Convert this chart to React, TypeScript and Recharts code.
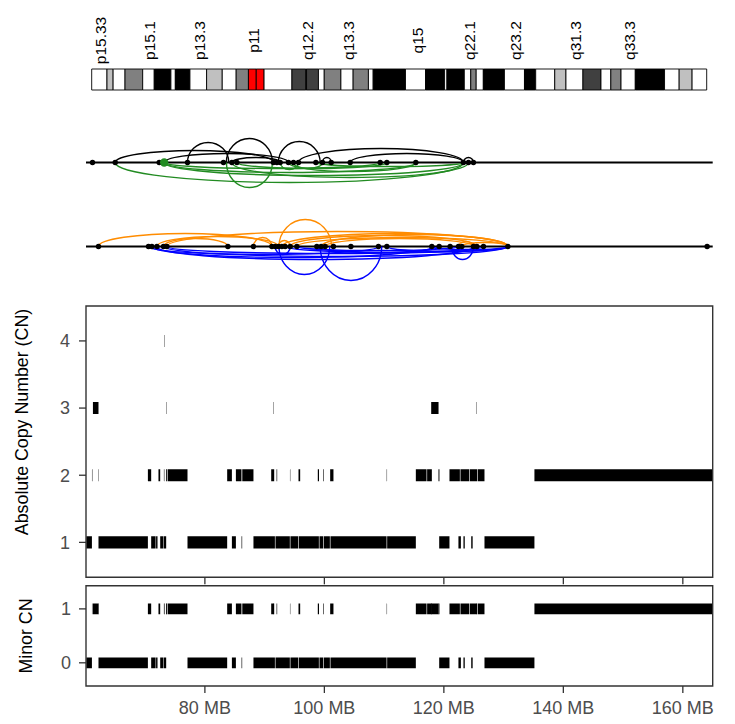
import { ComposedChart, Scatter, XAxis, YAxis, ReferenceArea, ReferenceLine } from 'recharts'

// chr5 cytobands (hg19), band ends in MB
const bandNames = ['p15.33', 'p15.32', 'p15.31', 'p15.2', 'p15.1', 'p14.3', 'p14.2', 'p14.1', 'p13.3', 'p13.2', 'p13.1', 'p12', 'p11', 'q11.1', 'q11.2', 'q12.1', 'q12.2', 'q12.3', 'q13.1', 'q13.2', 'q13.3', 'q14.1', 'q14.2', 'q14.3', 'q15', 'q21.1', 'q21.2', 'q21.3', 'q22.1', 'q22.2', 'q22.3', 'q23.1', 'q23.2', 'q23.3', 'q31.1', 'q31.2', 'q31.3', 'q32', 'q33.1', 'q33.2', 'q33.3', 'q34', 'q35.1', 'q35.2', 'q35.3']
const bandEnds = [4.5, 6.3, 9.8, 15.0, 18.4, 23.3, 24.6, 28.9, 33.8, 38.4, 42.5, 46.1, 48.4, 50.7, 58.9, 62.9, 63.2, 66.7, 68.4, 73.3, 76.9, 81.4, 82.8, 92.3, 98.2, 103.8, 104.5, 109.6, 111.5, 113.1, 115.2, 121.4, 127.3, 130.6, 136.2, 139.5, 144.5, 149.8, 152.7, 155.7, 159.9, 168.5, 172.8, 176.6, 180.9]
const bandStains = ['gneg', 'gpos25', 'gneg', 'gpos50', 'gneg', 'gpos100', 'gneg', 'gpos100', 'gneg', 'gpos25', 'gneg', 'gpos50', 'acen', 'acen', 'gneg', 'gpos75', 'gneg', 'gpos75', 'gneg', 'gpos50', 'gneg', 'gpos50', 'gneg', 'gpos100', 'gneg', 'gpos100', 'gneg', 'gpos100', 'gneg', 'gpos50', 'gneg', 'gpos100', 'gneg', 'gpos100', 'gneg', 'gpos25', 'gneg', 'gpos75', 'gneg', 'gpos50', 'gneg', 'gpos100', 'gneg', 'gpos25', 'gneg']
const bandLabels = ['p15.33', 'p15.1', 'p13.3', 'p11', 'q12.2', 'q13.3', 'q15', 'q22.1', 'q23.2', 'q31.3', 'q33.3']

// breakpoints (MB)
const dots1 = [61.19, 64.99, 72.35, 77.09, 83.11, 84.52, 85.36, 91.48, 92.05, 92.6, 93.99, 94.83, 95.67, 98.58, 99.69, 101.14, 104.32, 109.34, 110.46, 115.31, 123.28, 124.12, 124.95]
const greenDots1 = [73.19]
const dots2 = [62.19, 70.56, 71.13, 71.97, 73.07, 73.64, 83.85, 88.13, 91.21, 91.77, 92.32, 92.89, 93.44, 94.28, 95.4, 98.74, 99.46, 100.13, 101.52, 104.44, 109.05, 110.46, 117.99, 119.21, 121.05, 122.44, 123.01, 124.95, 125.52, 126.63, 130.71, 164.07]

// arcs: [from MB, to MB, height]
const blackArcs = [
  [64.99, 91.48, 12], [73.19, 93.99, 9], [77.09, 84.0, 20], [83.6, 91.3, 24],
  [92.3, 99.3, 21], [99.69, 101.14, 5], [95.67, 123.28, 14], [104.32, 123.28, 9],
  [123.28, 124.95, 5], [84.52, 92.6, 5],
]
const greenArcs = [
  [64.99, 123.28, 20], [73.19, 109.34, 6], [73.19, 115.31, 10], [73.19, 123.28, 13],
  [83.6, 91.3, 25], [85.36, 110.46, 6], [84.52, 124.12, 15], [92.6, 95.67, 7],
  [94.83, 99.69, 6], [93.99, 115.31, 9], [98.58, 123.28, 4],
]
const orangeArcs = [
  [62.19, 91.21, 13], [73.64, 130.71, 15], [92.4, 101.2, 27], [73.07, 83.85, 8],
  [88.13, 91.21, 9], [71.97, 92.32, 10], [92.89, 130.71, 13], [94.28, 125.52, 11],
  [95.4, 130.71, 9], [99.46, 130.71, 12], [100.13, 124.95, 8], [122.44, 124.95, 5],
  [123.01, 130.71, 4], [92.32, 94.28, 6],
]
const blueArcs = [
  [92.4, 100.9, 28], [99.3, 109.6, 34], [121.3, 124.95, 13], [91.77, 94.28, 8],
  [70.56, 109.05, 8], [71.13, 117.99, 11], [71.97, 124.95, 13], [73.07, 130.71, 10],
  [73.64, 126.63, 7], [93.44, 130.71, 6], [95.4, 122.44, 4], [98.74, 119.21, 6],
  [110.46, 130.71, 5], [117.99, 130.71, 3],
]

// copy number segments: [start MB, end MB, CN, minor CN]
const segments = [
  [60.15, 61.09, 1, 0], [62.19, 70.46, 1, 0], [71.01, 71.75, 1, 0], [71.83, 72.07, 1, 0],
  [72.52, 73.0, 1, 0], [73.08, 73.52, 1, 0], [77.09, 83.73, 1, 0], [84.52, 85.19, 1, 0],
  [86.14, 86.24, 1, 0], [88.13, 91.72, 1, 0], [91.82, 94.22, 1, 0], [94.32, 95.62, 1, 0],
  [95.72, 99.08, 1, 0], [99.18, 99.81, 1, 0], [99.91, 100.92, 1, 0], [101.02, 110.41, 1, 0],
  [110.51, 115.31, 1, 0], [119.22, 120.94, 1, 0], [122.44, 122.85, 1, 0], [123.28, 123.5, 1, 0],
  [124.58, 124.82, 1, 0], [126.8, 135.16, 1, 0],
  [61.1, 61.17, 2, 1], [62.16, 62.22, 2, 1], [70.46, 71.01, 2, 1], [72.23, 72.52, 2, 1],
  [73.14, 73.22, 2, 1], [73.52, 73.7, 2, 1], [73.8, 77.09, 2, 1], [83.73, 84.52, 2, 1],
  [85.19, 86.12, 2, 1], [86.26, 88.13, 2, 1], [91.1, 91.6, 2, 1], [92.0, 92.1, 2, 1],
  [94.24, 94.3, 2, 1], [95.67, 95.95, 2, 1], [98.9, 99.1, 2, 1], [99.82, 99.92, 2, 1],
  [100.97, 101.52, 2, 1], [110.43, 110.49, 2, 1], [115.31, 117.1, 2, 1], [117.2, 117.99, 2, 1],
  [119.1, 119.26, 2, 1], [120.94, 122.68, 2, 1], [122.78, 124.24, 2, 1], [124.34, 125.58, 2, 1],
  [125.68, 126.8, 2, 1], [135.16, 164.95, 2, 1],
  [61.26, 62.19, 3, 1], [73.54, 73.6, 3, 1], [91.45, 91.51, 3, 1], [117.88, 119.11, 3, 1],
  [125.38, 125.44, 3, 1],
  [73.17, 73.23, 4, 1],
]

const mbTicks = [80, 100, 120, 140, 160]
const xDomain = [60.1, 165]
const W = 735
const font = '"Liberation Sans", Arial, sans-serif'

const stainFill: Record<string, string> = {
  gneg: '#ffffff', gpos25: '#c0c0c0', gpos50: '#808080', gpos75: '#404040', gpos100: '#000000', acen: '#ff0000',
}

const bands = bandNames.map((name, i) => ({
  name,
  start: i === 0 ? 0 : bandEnds[i - 1],
  end: bandEnds[i],
  stain: bandStains[i],
}))
const labelCenters = bandLabels.map(l => {
  const b = bands.find(d => d.name === l)!
  return (b.start + b.end) / 2
})

// anchor rows so every chart has data for its axes
const bandAnchors = bands.map(b => ({ x: (b.start + b.end) / 2, y: 0.5 }))
const cnAnchors = segments.map(([s, e, cn]) => ({ x: (s + e) / 2, y: cn }))
const minorAnchors = segments.map(([s, e, , m]) => ({ x: (s + e) / 2, y: m }))
const noShape = () => <g />

const BandTick = (props: any) => {
  const { x, payload } = props
  const name = bandLabels[labelCenters.indexOf(payload.value)]
  return (
    <text transform={`translate(${x + 7},40.5) rotate(-90)`} textAnchor="middle" fontSize={15.5} fill="#000" fontFamily={font}>
      {name}
    </text>
  )
}

const arcShape = (props: any) => {
  const { x1, y1, x2, y2, stroke, strokeWidth } = props
  const left = Math.min(x1, x2)
  const right = Math.max(x1, x2)
  const rx = (right - left) / 2
  const ry = Math.abs(y2 - y1)
  const sweep = y2 < y1 ? 1 : 0
  return <path d={`M${left},${y1}A${rx},${ry} 0 0 ${sweep} ${right},${y1}`} fill="none" stroke={stroke} strokeWidth={strokeWidth} />
}

const blackDot = (p: any) => <circle cx={p.cx} cy={p.cy} r={2.7} fill="#000" />
const greenDot = (p: any) => <circle cx={p.cx} cy={p.cy} r={4.2} fill="#228B22" />

function ArcPanel({ top, dots, bigDots, upArcs, downArcs, upColor, downColor }: any) {
  return (
    <div style={{ position: 'absolute', left: 0, top }}>
      <ComposedChart width={W} height={105} margin={{ top: 0, right: 22.3, bottom: 0, left: 86 }}>
        <XAxis type="number" dataKey="x" domain={xDomain} hide allowDataOverflow />
        <YAxis type="number" dataKey="y" domain={[-52.5, 52.5]} hide allowDataOverflow />
        <ReferenceLine y={0} stroke="#000" strokeWidth={2.2} />
        {upArcs.map(([a, b, h]: number[], i: number) => (
          <ReferenceLine key={'u' + i} segment={[{ x: a, y: 0 }, { x: b, y: h }]} stroke={upColor} strokeWidth={1.4} shape={arcShape} ifOverflow="visible" />
        ))}
        {downArcs.map(([a, b, h]: number[], i: number) => (
          <ReferenceLine key={'d' + i} segment={[{ x: a, y: 0 }, { x: b, y: -h }]} stroke={downColor} strokeWidth={1.4} shape={arcShape} ifOverflow="visible" />
        ))}
        <Scatter data={dots.map((x: number) => ({ x, y: 0 }))} shape={blackDot} isAnimationActive={false} />
        {bigDots && <Scatter data={bigDots.map((x: number) => ({ x, y: 0 }))} shape={greenDot} isAnimationActive={false} />}
      </ComposedChart>
    </div>
  )
}

const tickStyle = { fontSize: 18, fill: '#4d4d4d', fontFamily: font }
const tickLineStyle = { stroke: '#333333', strokeWidth: 1.3 }

export default function App() {
  return (
    <div style={{ position: 'absolute', left: 0, top: 0, width: W, height: 724, background: '#fff', fontFamily: font }}>
      {/* ideogram */}
      <div style={{ position: 'absolute', left: 0, top: 0 }}>
        <ComposedChart width={W} height={100} margin={{ top: 0, right: 28.3, bottom: 10, left: 91.7 }}>
          <XAxis type="number" dataKey="x" orientation="top" domain={[0, 180.9]} ticks={labelCenters} interval={0} tick={<BandTick />} axisLine={false} tickLine={false} height={69} allowDataOverflow />
          <YAxis type="number" dataKey="y" domain={[0, 1]} hide allowDataOverflow />
          <Scatter data={bandAnchors} shape={noShape} isAnimationActive={false} />
          {bands.map(b => (
            <ReferenceArea key={b.name} x1={b.start} x2={b.end} y1={0} y2={1} fill={stainFill[b.stain]} fillOpacity={1} stroke="#000" strokeWidth={0.9} ifOverflow="visible" />
          ))}
        </ComposedChart>
      </div>

      <ArcPanel top={110} dots={dots1} bigDots={greenDots1} upArcs={blackArcs} downArcs={greenArcs} upColor="#000000" downColor="#228B22" />
      <ArcPanel top={194.2} dots={dots2} upArcs={orangeArcs} downArcs={blueArcs} upColor="#FF8C00" downColor="#0000FF" />

      {/* absolute copy number */}
      <div style={{ position: 'absolute', left: 0, top: 300 }}>
        <ComposedChart width={W} height={300} margin={{ top: 6, right: 22.3, bottom: 10.7, left: 0 }}>
          <XAxis type="number" dataKey="x" domain={xDomain} ticks={mbTicks} interval={0} tickFormatter={() => ''} tickSize={7} axisLine={false} tickLine={tickLineStyle} height={12} allowDataOverflow />
          <YAxis type="number" dataKey="y" domain={[0.48, 4.52]} ticks={[1, 2, 3, 4]} interval={0} width={86} tickSize={7} tickMargin={9} axisLine={false} tick={tickStyle} tickLine={tickLineStyle} allowDataOverflow />
          <Scatter data={cnAnchors} shape={noShape} isAnimationActive={false} />
          {segments.map(([s, e, cn], i) => (
            <ReferenceArea key={i} x1={s} x2={e} y1={cn - 0.09} y2={cn + 0.09} fill="#000" fillOpacity={1} stroke="none" ifOverflow="hidden" />
          ))}
          <ReferenceArea x1={xDomain[0]} x2={xDomain[1]} y1={0.48} y2={4.52} fill="none" stroke="#333333" strokeWidth={1.4} ifOverflow="visible" />
        </ComposedChart>
      </div>

      {/* minor copy number */}
      <div style={{ position: 'absolute', left: 0, top: 580 }}>
        <ComposedChart width={W} height={144} margin={{ top: 5.7, right: 22.3, bottom: 8, left: 0 }}>
          <XAxis type="number" dataKey="x" domain={xDomain} ticks={mbTicks} interval={0} tickFormatter={(v: number) => `${v} MB`} tickSize={7} tickMargin={8} axisLine={false} tick={tickStyle} tickLine={tickLineStyle} height={30} allowDataOverflow />
          <YAxis type="number" dataKey="y" domain={[-0.43, 1.43]} ticks={[0, 1]} interval={0} width={86} tickSize={7} tickMargin={8} axisLine={false} tick={tickStyle} tickLine={tickLineStyle} allowDataOverflow />
          <Scatter data={minorAnchors} shape={noShape} isAnimationActive={false} />
          {segments.map(([s, e, , minor], i) => (
            <ReferenceArea key={i} x1={s} x2={e} y1={minor - 0.1} y2={minor + 0.1} fill="#000" fillOpacity={1} stroke="none" ifOverflow="hidden" />
          ))}
          <ReferenceArea x1={xDomain[0]} x2={xDomain[1]} y1={-0.43} y2={1.43} fill="none" stroke="#333333" strokeWidth={1.4} ifOverflow="visible" />
        </ComposedChart>
      </div>

      {/* axis titles */}
      <div style={{ position: 'absolute', left: 23.3, top: 421.7, transform: 'translate(-50%, -50%) rotate(-90deg)', whiteSpace: 'nowrap', fontSize: 17.8, color: '#000', lineHeight: 1 }}>
        Absolute Copy Number (CN)
      </div>
      <div style={{ position: 'absolute', left: 26.7, top: 635.9, transform: 'translate(-50%, -50%) rotate(-90deg)', whiteSpace: 'nowrap', fontSize: 17.8, color: '#000', lineHeight: 1 }}>
        Minor CN
      </div>
    </div>
  )
}
